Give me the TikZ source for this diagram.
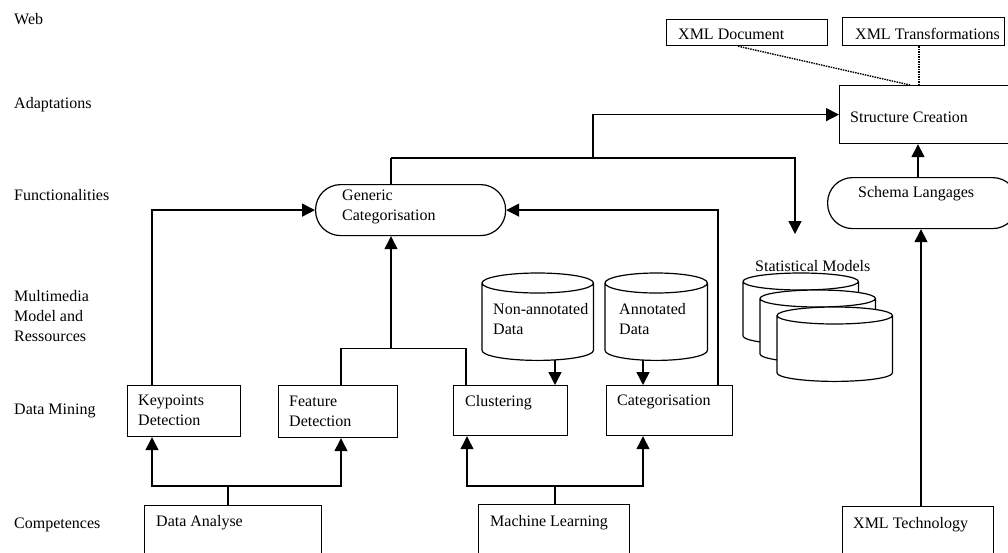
\documentclass[tikz,border=0pt]{standalone}
\usepackage{fontspec}
\setmainfont{Liberation Serif}
\usetikzlibrary{arrows.meta,calc}
\newcommand\drawcyl[2]{%
  \draw[cylline] let \p1=(#1.north west), \p2=(#1.south east) in
    ({\x1},{\y1-#2}) -- ({\x1},{\y2+#2})
    arc[start angle=180,end angle=360,x radius={(\x2-\x1)/2},y radius=#2]
    -- ({\x2},{\y1-#2})
    arc[start angle=0,end angle=180,x radius={(\x2-\x1)/2},y radius=#2]
    -- cycle
    ({\x1},{\y1-#2}) arc[start angle=180,end angle=360,x radius={(\x2-\x1)/2},y radius=#2];}
\begin{document}
\begin{tikzpicture}[x=1pt,y=-1pt,
  every node/.style={font=\fontsize{16}{20}\selectfont},
  box/.style={draw, line width=1.2pt, anchor=north west, inner sep=0pt},
  stadium/.style={box, rounded corners=25pt},
  txt/.style={anchor=north west, inner sep=0pt, align=left},
  conn/.style={line width=1.4pt},
  arr/.style={conn, -{Triangle[length=13pt,width=13pt]}},
  dot/.style={line width=1.4pt, dash pattern=on 1.5pt off 1pt},
  cylbox/.style={anchor=north west, inner sep=0pt},
  cylline/.style={line width=1.2pt, fill=white},
]
\useasboundingbox (0,0) rectangle (1008,552);
\fill[white] (0,0) rectangle (1008,552);

% level labels
\node[txt] (lweb) at (14,12.7) {Web};
\node[txt] (ladp) at (14,97) {Adaptations};
\node[txt] (lfun) at (14,189) {Functionalities};
\node[txt] (lmul) at (14,290) {Multimedia\\Model and\\Ressources};
\node[txt] (ldm)  at (14,404) {Data Mining};
\node[txt] (lcom) at (14,518) {Competences};

% boxes
\node[box, minimum width=161pt, minimum height=26pt] (xd)  at (666,19) {};
\node[box, minimum width=162pt, minimum height=28pt] (xtr) at (842,17) {};
\node[box, minimum width=180pt, minimum height=58pt] (sc)  at (839,85) {};
\node[stadium, minimum width=190pt, minimum height=51pt] (gc) at (315,184) {};
\node[stadium, minimum width=190pt, minimum height=51pt] (sl) at (827,177) {};
\node[box, minimum width=113pt, minimum height=51pt] (kd) at (127,385) {};
\node[box, minimum width=119pt, minimum height=52pt] (fd) at (278,385) {};
\node[box, minimum width=114pt, minimum height=50pt] (cl) at (453,385) {};
\node[box, minimum width=126pt, minimum height=50pt] (ca) at (606,385) {};
\node[box, minimum width=177pt, minimum height=60pt] (da) at (144,505) {};
\node[box, minimum width=151pt, minimum height=60pt] (ml) at (478,504) {};
\node[box, minimum width=151pt, minimum height=60pt] (xt) at (842,506) {};

% cylinders
\node[cylbox, minimum width=111pt, minimum height=87pt] (na) at (482,273) {};
\node[cylbox, minimum width=102pt, minimum height=87pt] (an) at (605,273) {};
\drawcyl{na}{10pt}
\drawcyl{an}{10pt}
\node[cylbox, minimum width=115pt, minimum height=71pt] (s1) at (743,273) {};
\node[cylbox, minimum width=115pt, minimum height=72pt] (s2) at (760,290) {};
\node[cylbox, minimum width=115pt, minimum height=74pt] (s3) at (777,307) {};
\drawcyl{s1}{8.5pt}
\drawcyl{s2}{8.5pt}
\drawcyl{s3}{8.5pt}

% texts
\node[txt] (txd)  at (678,29) {XML Document};
\node[txt] (txtr) at (855,28) {XML Transformations};
\node[txt] (tsc)  at (850,112) {Structure Creation};
\node[txt] (tgc)  at (342,190) {Generic\\Categorisation};
\node[txt] (tsl)  at (858,186) {Schema Langages};
\node[txt] (smt)  at (755,260) {Statistical Models};
\node[txt] (tna)  at (493,303) {Non-annotated\\Data};
\node[txt] (tan)  at (619,303) {Annotated\\Data};
\node[txt] (tkd)  at (138,395) {Keypoints\\Detection};
\node[txt] (tfd)  at (289,396) {Feature\\Detection};
\node[txt] (tcl)  at (465,395) {Clustering};
\node[txt] (tca)  at (617,395) {Categorisation};
\node[txt] (tda)  at (156,515) {Data Analyse};
\node[txt] (tml)  at (490,515) {Machine Learning};
\node[txt] (txt)  at (853,517) {XML Technology};

% connectors: data mining -> generic categorisation
\draw[arr] ($(kd.north west)+(25,0)$) |- (gc.west);
\coordinate (j1) at ($(gc.south west)+(76,112)$);
\draw[conn] ($(fd.north west)+(63,0)$) |- (j1) -| ($(cl.north west)+(13,0)$);
\draw[arr] (j1) -- (j1 |- gc.south);
\draw[arr] ($(ca.north west)+(112,0)$) |- (gc.east);

% generic -> statistical models / structure creation
\coordinate (j2) at ($(gc.north west)+(76,-26)$);
\coordinate (j3) at ($(j2)+(202,0)$);
\draw[conn] ($(gc.north west)+(76,0)$) -- (j2);
\draw[arr] (j2) -| ($(smt.north west)+(40,-26)$);
\draw[arr] (j3) |- (sc.west);

% schema / xml
\coordinate (s0) at ($(sl.north west)+(91,0)$);
\draw[arr] (s0) -- (s0 |- sc.south);
\coordinate (x1) at ($(xt.north west)+(79,0)$);
\draw[arr] (x1) -- (x1 |- sl.south);
\draw[dot] ($(xd.south west)+(72,0)$) -- ($(sc.north west)+(71,0)$);
\coordinate (x2) at ($(xtr.south west)+(77,0)$);
\draw[dot] (x2) -- (x2 |- sc.north);

% resources -> data mining
\coordinate (n1) at ($(na.south west)+(73,0)$);
\draw[arr] (n1) -- (n1 |- cl.north);
\coordinate (n2) at ($(an.south west)+(38,0)$);
\draw[arr] (n2) -- (n2 |- ca.north);

% competences -> data mining
\coordinate (d1) at ($(da.north west)+(84,0)$);
\coordinate (d2) at ($(d1)+(0,-19)$);
\draw[conn] (d1) -- (d2);
\draw[arr] (d2) -| ($(kd.south west)+(25,0)$);
\draw[arr] (d2) -| ($(fd.south west)+(63,0)$);
\coordinate (m1) at ($(ml.north west)+(77,0)$);
\coordinate (m2) at ($(m1)+(0,-18)$);
\draw[conn] (m1) -- (m2);
\draw[arr] (m2) -| ($(cl.south west)+(14,0)$);
\draw[arr] (m2) -| ($(ca.south west)+(37,0)$);
\end{tikzpicture}
\end{document}
